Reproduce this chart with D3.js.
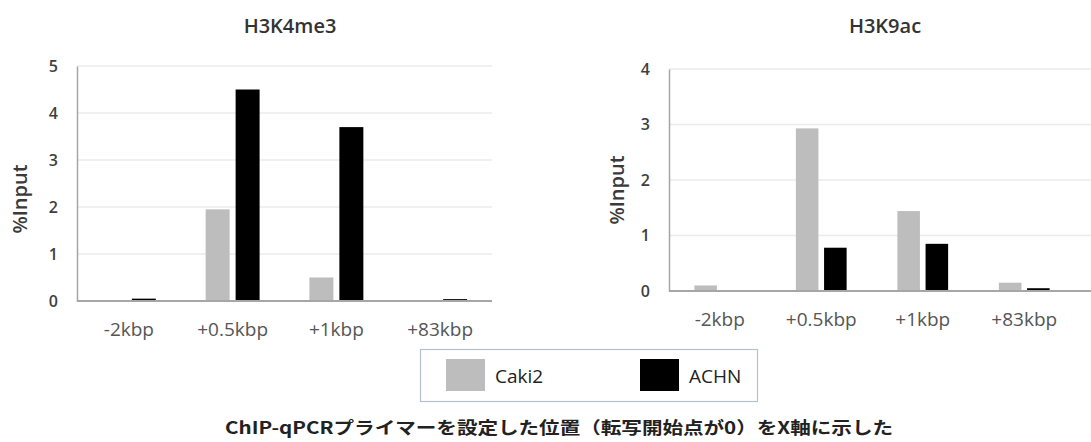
<!DOCTYPE html>
<html><head><meta charset="utf-8">
<script src="https://cdn.jsdelivr.net/npm/d3@7"></script>
<style>
body{margin:0;background:#fff;}
svg{display:block;font-family:"Open Sans","Noto Sans",sans-serif;}
</style></head>
<body>
<svg id="c" width="1091" height="442"></svg>
<script>
const categories = ["-2kbp", "+0.5kbp", "+1kbp", "+83kbp"];
const seriesNames = ["Caki2", "ACHN"];
const seriesColors = ["#bdbdbd", "#000000"];
const h3k4Caki2 = [0.02, 1.95, 0.5, 0.01];
const h3k4ACHN  = [0.05, 4.5, 3.7, 0.04];
const h3k9Caki2 = [0.1, 2.93, 1.44, 0.15];
const h3k9ACHN  = [0.01, 0.78, 0.85, 0.05];
const h3k4Ticks = [0, 1, 2, 3, 4, 5];
const h3k9Ticks = [0, 1, 2, 3, 4];
const caption = "ChIP-qPCRプライマーを設定した位置（転写開始点が0）をX軸に示した";

const svg = d3.select("#c");

function panel(cfg) {
  const g = svg.append("g");
  const x0 = d3.scaleBand().domain(categories).range([cfg.x0, cfg.x1]).padding(0);
  const bw = x0.bandwidth();
  const gw = bw * cfg.groupFrac;
  const x1 = d3.scaleBand().domain(seriesNames).range([(bw - gw) / 2, (bw + gw) / 2]).paddingInner(0.2);
  const y = d3.scaleLinear().domain([0, cfg.ymax]).range([cfg.y0, cfg.y1]);

  // gridlines
  g.append("g").selectAll("line").data(cfg.ticks.filter(t => t > 0)).join("line")
    .attr("x1", cfg.x0).attr("x2", cfg.gridEnd)
    .attr("y1", d => y(d)).attr("y2", d => y(d))
    .attr("stroke", "#ebebeb").attr("stroke-width", 1.3);

  // y axis
  const ya = g.append("g").attr("transform", `translate(${cfg.x0},0)`)
    .call(d3.axisLeft(y).tickValues(cfg.ticks).tickFormat(d3.format("d")).tickSize(0).tickPadding(cfg.tickPad));
  ya.select(".domain").attr("stroke", "#a6a6a6").attr("stroke-width", 1.5);
  ya.selectAll("text").attr("fill", "#3f3f3f").attr("font-size", 16).attr("font-weight", 600)
    .attr("font-family", "'Open Sans',sans-serif");

  // bars
  const data = categories.map((c, i) => ({c, vals: [cfg.a[i], cfg.b[i]]}));
  const grp = g.append("g").selectAll("g").data(data).join("g")
    .attr("transform", d => `translate(${x0(d.c)},0)`);
  grp.selectAll("rect").data(d => d.vals.map((v, j) => ({s: seriesNames[j], v, j}))).join("rect")
    .attr("x", d => x1(d.s)).attr("width", x1.bandwidth())
    .attr("y", d => y(d.v)).attr("height", d => y(0) - y(d.v))
    .attr("fill", d => seriesColors[d.j]);

  // x axis
  const xa = g.append("g").attr("transform", `translate(0,${cfg.y0})`)
    .call(d3.axisBottom(x0).tickSize(0).tickPadding(cfg.xPad));
  xa.select(".domain").attr("stroke", "#a6a6a6").attr("stroke-width", 1.8)
    .attr("d", `M${cfg.x0},0H${cfg.gridEnd}`);
  xa.selectAll("text").attr("fill", "#555").attr("font-size", 19)
    .attr("font-family", "'Open Sans',sans-serif");

  // title
  g.append("text").attr("x", cfg.titleX).attr("y", 33).attr("text-anchor", "middle")
    .attr("font-size", 20).attr("font-weight", 600).attr("fill", "#333").text(cfg.title);
  // y label
  g.append("text").attr("transform", `translate(${cfg.ylabX},${cfg.ylabY}) rotate(-90)`)
    .attr("text-anchor", "middle").attr("font-size", 20).attr("font-weight", 600)
    .attr("fill", "#3a3a3a").text("%Input");
}

panel({x0: 77, x1: 492, gridEnd: 492, y0: 301, y1: 66, ymax: 5, ticks: h3k4Ticks,
  a: h3k4Caki2, b: h3k4ACHN, groupFrac: 0.52, tickPad: 19, xPad: 22,
  title: "H3K4me3", titleX: 290, ylabX: 27, ylabY: 199});
panel({x0: 669, x1: 1075, gridEnd: 1091, y0: 291, y1: 69, ymax: 4, ticks: h3k9Ticks,
  a: h3k9Caki2, b: h3k9ACHN, groupFrac: 0.5, tickPad: 19, xPad: 22,
  title: "H3K9ac", titleX: 885, ylabX: 624, ylabY: 190});

// legend
const lg = svg.append("g");
lg.append("rect").attr("x", 420.5).attr("y", 349.5).attr("width", 337).attr("height", 52)
  .attr("fill", "#fff").attr("stroke", "#b4c0cc").attr("stroke-width", 1.2);
const lx = [446, 640];
seriesNames.forEach((s, i) => {
  lg.append("rect").attr("x", lx[i]).attr("y", 359).attr("width", 39).attr("height", 32)
    .attr("fill", seriesColors[i]);
  lg.append("text").attr("x", lx[i] + 49).attr("y", 383).attr("font-size", 19)
    .attr("fill", "#222").text(s);
});

// caption
svg.append("text").attr("x", 559).attr("y", 434).attr("text-anchor", "middle")
  .attr("font-family", "'Noto Sans CJK JP',sans-serif").attr("font-size", 17)
  .attr("font-weight", "bold").attr("fill", "#222")
  .attr("textLength", 668).attr("lengthAdjust", "spacingAndGlyphs")
  .text(caption);
</script>
</body></html>
